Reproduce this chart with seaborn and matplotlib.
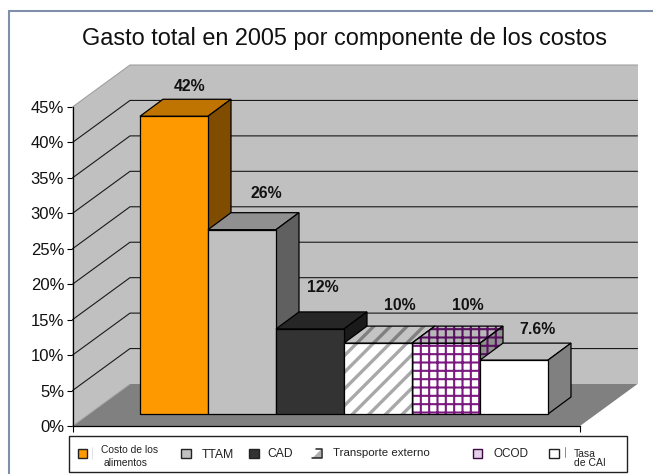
import matplotlib
matplotlib.use("Agg")
import matplotlib.pyplot as plt
from matplotlib.patches import Polygon, Rectangle
from matplotlib.lines import Line2D
import pandas as pd
import seaborn as sns

# Chart values
components = ["Costo de los alimentos", "TTAM", "CAD", "Transporte externo", "OCOD", "Tasa de CAI"]
shares = [42, 26, 12, 10, 10, 7.6]
y_ticks = [0, 5, 10, 15, 20, 25, 30, 35, 40, 45]
title_text = "Gasto total en 2005 por componente de los costos"

# Styling for each column: front, top and side faces
front_colors = ["#FF9900", "#C0C0C0", "#333333", "#FFFFFF", "#FFFFFF", "#FFFFFF"]
top_colors = ["#BF7300", "#909090", "#262626", "#C4C4C4", "#B8B8B8", "#BFBFBF"]
side_colors = ["#804D00", "#606060", "#1A1A1A", "#808080", "#909090", "#808080"]
hatches = [None, None, None, "//", "++", None]
hatch_colors = [None, None, None, "#A8A8A8", "#7A1A80", None]
face_hatch_colors = [None, None, None, "#808080", "#5A1060", None]
hatch_widths = [None, None, None, 2.4, 1.5, None]
label_shift = [(16, -30), (24, -36), (13, -41), (22, -38), (22, -38), (23, -31)]

W, H = 653, 474
sns.set_style("white")
plt.rcParams["font.family"] = ["Liberation Sans", "DejaVu Sans"]
fig = plt.figure(figsize=(W / 100, H / 100), dpi=100, facecolor="white")


def fx(px):
    return px / W


def fy(py):
    return 1 - py / H


def axes_box(left, top, right, bottom):
    return [fx(left), fy(bottom), (right - left) / W, (bottom - top) / H]


def fig_line(xs, ys, color, lw):
    fig.add_artist(Line2D([fx(x) for x in xs], [fy(y) for y in ys], transform=fig.transFigure,
                          color=color, lw=lw, zorder=6))


# Outer frame, running past the right and bottom edges of the canvas
fig.add_artist(Rectangle((fx(9), fy(490)), fx(670 - 9), fy(10.5) - fy(490),
                         transform=fig.transFigure, fill=False, edgecolor="#7F8FA9", linewidth=1.5))

# Back structure: walls, floor and the value axis
back = fig.add_axes(axes_box(72.5, 107, 580, 426), zorder=0)
back.patch.set_visible(False)
back.set_xlim(0, 1)
back.set_ylim(0, 45)
depth_x = 57.5 / 507.5
depth_y = 42 / (319 / 45)
back.add_patch(Polygon([(0, 0), (depth_x, depth_y), (depth_x, 45 + depth_y), (0, 45)],
                       closed=True, facecolor="#C0C0C0", edgecolor="none", clip_on=False, zorder=1))
back.add_patch(Rectangle((depth_x, depth_y), 1, 45, facecolor="#C0C0C0", edgecolor="none",
                         clip_on=False, zorder=1))
back.add_patch(Polygon([(0, 0), (1, 0), (1 + depth_x, depth_y), (depth_x, depth_y)],
                       closed=True, facecolor="#808080", edgecolor="none", clip_on=False, zorder=2))
for tick in y_ticks[1:]:
    edge = "#A0A0A0" if tick == 45 else "#1A1A1A"
    back.plot([0, depth_x, 1 + depth_x], [tick, tick + depth_y, tick + depth_y],
              color=edge, lw=0.8, clip_on=False, zorder=3, solid_joinstyle="miter")
back.plot([0, depth_x], [0, depth_y], color="#A8A8A8", lw=0.7, clip_on=False, zorder=3)
back.set_yticks(y_ticks)
back.set_yticklabels([f"{t}%" for t in y_ticks], fontsize=12, color="#111111")
back.set_xticks([0, 1])
back.set_xticklabels(["", ""])
back.tick_params(axis="both", length=4, width=0.8, color="black", left=True, bottom=True, pad=2)
sns.despine(ax=back, top=True, right=True)
for side in ("left", "bottom"):
    back.spines[side].set_color("black")
    back.spines[side].set_linewidth(0.9)
    back.spines[side].set_zorder(4)

# Columns: same vertical scale as the value axis, raised off the front floor edge
bars_ax = fig.add_axes(axes_box(140, 414 - 319, 548, 414), zorder=1)
bars_ax.patch.set_visible(False)
frame = pd.DataFrame({"component": components, "share": shares})
sns.barplot(data=frame, x="component", y="share", hue="component", palette=front_colors,
            legend=False, width=1.0, saturation=1, edgecolor="black", linewidth=0.9,
            ax=bars_ax, clip_on=False)
bars_ax.set_xlim(-0.5, 5.5)
bars_ax.set_ylim(0, 45)
bars_ax.axis("off")
bar_dx = 23 / 68
bar_dy = 17 / (319 / 45)

for i, bar in enumerate(list(bars_ax.patches)):
    x0, w, v = bar.get_x(), bar.get_width(), bar.get_height()
    order = 10 + 2 * i
    top = [(x0, v), (x0 + w, v), (x0 + w + bar_dx, v + bar_dy), (x0 + bar_dx, v + bar_dy)]
    right = [(x0 + w, 0), (x0 + w + bar_dx, bar_dy), (x0 + w + bar_dx, v + bar_dy), (x0 + w, v)]
    for pts, shade in [(top, top_colors[i]), (right, side_colors[i])]:
        if hatches[i]:
            fill = Polygon(pts, closed=True, facecolor=shade, edgecolor=face_hatch_colors[i],
                           hatch=hatches[i], linewidth=0, clip_on=False, zorder=order)
            fill.set_hatch_linewidth(hatch_widths[i])
            bars_ax.add_patch(fill)
            bars_ax.add_patch(Polygon(pts, closed=True, fill=False, edgecolor="black", linewidth=0.9,
                                      clip_on=False, zorder=order + 0.1))
        else:
            bars_ax.add_patch(Polygon(pts, closed=True, facecolor=shade, edgecolor="black", linewidth=0.9,
                                      clip_on=False, zorder=order))
    bar.set_zorder(order + 0.5)
    if hatches[i]:
        bar.set_edgecolor(hatch_colors[i])
        bar.set_linewidth(0)
        bar.set_hatch(hatches[i])
        bar.set_hatch_linewidth(hatch_widths[i])
        bars_ax.add_patch(Rectangle((x0, 0), w, v, fill=False, edgecolor="black", linewidth=0.9,
                                    clip_on=False, zorder=order + 0.6))
    dx, dy = label_shift[i]
    bars_ax.annotate(f"{v:g}%", (x0 + w / 2, v), xytext=(dx * 0.72, -dy * 0.72), textcoords="offset points",
                     ha="center", va="center", fontsize=11.4, fontweight="bold", color="#111111",
                     annotation_clip=False, zorder=40)

# Title
fig.text(fx(345), fy(39), title_text, ha="center", va="center", fontsize=16.9, color="#111111")

# Legend panel
fig.add_artist(Rectangle((fx(69), fy(471.5)), (627 - 69) / W, (471.5 - 436) / H, transform=fig.transFigure,
                         facecolor="white", edgecolor="#222222", linewidth=1.0))
swatches = [(77.5, 449, "#222222"), (181, 449, "#222222"), (249, 449, "#222222"),
            (473, 449, "#3A0A40"), (549, 449, "#222222")]
swatch_fill = [front_colors[0], front_colors[1], front_colors[2], "#E4D0E8", front_colors[5]]
for (sx, sy, edge), fill_color in zip(swatches, swatch_fill):
    fig.add_artist(Rectangle((fx(sx), fy(sy + 9)), 9.5 / W, 9 / H, transform=fig.transFigure,
                             facecolor=fill_color, edgecolor=edge, linewidth=1.0, zorder=5))

# Striped swatch: open on the left, heavy on the right and bottom
fig.add_artist(Polygon([(fx(312.5), fy(458)), (fx(321), fy(449.5)), (fx(321), fy(458))],
                       closed=True, transform=fig.transFigure, facecolor="#B0B0B0", edgecolor="none", zorder=5))
fig_line([316, 321.5, 321.5, 312], [449, 449, 458, 458], "#222222", 1.1)

fig_line([565, 565], [447, 457], "#777777", 0.6)
fig_line([92, 92], [447, 459], "#DDDDDD", 0.6)

legend_font = dict(va="center", color="#222222")
fig.text(fx(130), fy(450), "Costo de los", ha="center", fontsize=7.4, **legend_font)
fig.text(fx(126), fy(463), "alimentos", ha="center", fontsize=7.4, **legend_font)
fig.text(fx(202), fy(455), components[1], ha="left", fontsize=8.8, **legend_font)
fig.text(fx(267.5), fy(454), components[2], ha="left", fontsize=8.7, **legend_font)
fig.text(fx(333), fy(453), components[3], ha="left", fontsize=8.25, **legend_font)
fig.text(fx(493), fy(454), components[4], ha="left", fontsize=8.5, **legend_font)
fig.text(fx(574), fy(454), "Tasa", ha="left", fontsize=7.5, **legend_font)
fig.text(fx(574), fy(463), "de CAI", ha="left", fontsize=7.5, **legend_font)

fig.savefig("out.png", dpi=100, facecolor="white")
